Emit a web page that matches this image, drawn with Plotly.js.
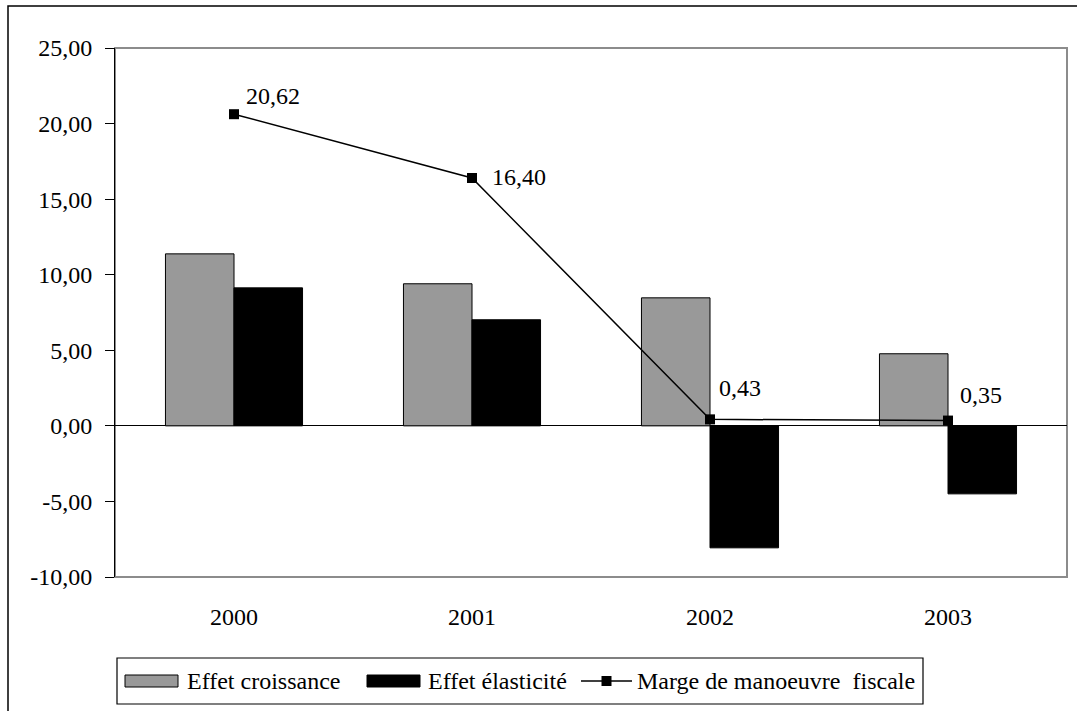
<!DOCTYPE html>
<html><head><meta charset="utf-8">
<script src="https://cdn.plot.ly/plotly-3.0.1.min.js"></script>
<style>html,body{margin:0;padding:0;background:#fff}#chart{width:1077px;height:711px}</style>
</head><body><div id="chart"></div>
<script>
const years = ['2000','2001','2002','2003'];
const effetCroissance = [11.38, 9.40, 8.47, 4.77];
const effetElasticite = [9.13, 7.02, -8.07, -4.50];
const margeManoeuvre = [20.62, 16.40, 0.43, 0.35];
const margeLabels = ['20,62','16,40','0,43','0,35'];
const labelShiftX = [10, 18, 7, 10];
const labelShiftY = [18, 1, 31, 26];
const yTickVals = [-10, -5, 0, 5, 10, 15, 20, 25];
const yTickText = ['-10,00','-5,00','0,00','5,00','10,00','15,00','20,00','25,00'];
const seriesNames = ['Effet croissance','Effet élasticité','Marge de manoeuvre\u00a0 fiscale'];

const FAM = 'Liberation Serif, Times New Roman, serif';
const font = {family:FAM, size:24, color:'#000'};
const yRange = [-10, 25];
const xRange = [-0.5, years.length - 0.5];
const boundaries = years.map((y,i)=>i+0.5);

// plot area geometry (px) for paper conversions
const M = {l:115, r:10, t:48, b:134};
const W = 1077, H = 711;
const PW = W - M.l - M.r, PH = H - M.t - M.b;
const px = v => (v - M.l) / PW;
const py = v => (H - M.b - v) / PH;

const traces = [
  {type:'bar', x:years, y:effetCroissance, name:seriesNames[0],
   marker:{color:'#999999', line:{color:'#000', width:1}}, hoverinfo:'skip'},
  {type:'bar', x:years, y:effetElasticite, name:seriesNames[1],
   marker:{color:'#000000', line:{color:'#000', width:1}}, hoverinfo:'skip'},
  {type:'scatter', mode:'lines+markers', x:years, y:margeManoeuvre, name:seriesNames[2],
   line:{color:'#000', width:1.5}, marker:{symbol:'square', size:10, color:'#000'},
   hoverinfo:'skip', cliponaxis:false}
];

// data labels: category axis -> use category index
const annotations = margeManoeuvre.map((v,i)=>({
  xref:'x', yref:'y', x:i, y:v, text:margeLabels[i], showarrow:false,
  xanchor:'left', yanchor:'middle', xshift:labelShiftX[i], yshift:labelShiftY[i], font:font
}));

// custom legend (Excel-like wide swatches)
const legTop = 658, legBot = 704, legMid = 681;
const legendItems = [
  {sx0:125, sx1:178, tx:185, kind:'bar', color:'#999999'},
  {sx0:367, sx1:420, tx:426, kind:'bar', color:'#000000'},
  {sx0:581, sx1:632, tx:635, kind:'line', color:'#000000'}
];
const shapes = [
  {type:'rect', xref:'paper', yref:'paper', x0:0, x1:1, y0:0, y1:1, layer:'below',
   line:{color:'#8c8c8c', width:2}},
  {type:'rect', xref:'paper', yref:'paper', x0:px(8), x1:px(1090), y0:py(730), y1:py(6),
   line:{color:'#000', width:1.5}},
  {type:'rect', xref:'paper', yref:'paper', x0:px(117), x1:px(923), y0:py(legBot), y1:py(legTop),
   fillcolor:'#fff', line:{color:'#000', width:1.2}}
];
legendItems.forEach((it,i)=>{
  if (it.kind === 'bar') {
    shapes.push({type:'rect', xref:'paper', yref:'paper', x0:px(it.sx0), x1:px(it.sx1),
      y0:py(legMid+6), y1:py(legMid-6), fillcolor:it.color, line:{color:'#000', width:1}});
  } else {
    shapes.push({type:'line', xref:'paper', yref:'paper', x0:px(it.sx0), x1:px(it.sx1),
      y0:py(legMid), y1:py(legMid), line:{color:it.color, width:1.5}});
    const c = (it.sx0 + it.sx1)/2;
    shapes.push({type:'rect', xref:'paper', yref:'paper', x0:px(c-5), x1:px(c+5),
      y0:py(legMid+5), y1:py(legMid-5), fillcolor:it.color, line:{color:it.color, width:0}});
  }
  annotations.push({xref:'paper', yref:'paper', x:px(it.tx), y:py(legMid), text:seriesNames[i],
    showarrow:false, xanchor:'left', yanchor:'middle', font:font});
});

const layout = {
  width:W, height:H, margin:M,
  paper_bgcolor:'#fff', plot_bgcolor:'#fff',
  font:font, showlegend:false,
  barmode:'group', bargap:0.424, bargroupgap:0,
  xaxis:{type:'category', range:xRange, showline:false, ticks:'', showgrid:false, zeroline:false,
         tickfont:font, ticklabelstandoff:23},
  xaxis2:{overlaying:'x', anchor:'free', position:(0-yRange[0])/(yRange[1]-yRange[0]),
          range:xRange, tickvals:boundaries, ticks:'outside', ticklen:8, tickcolor:'#808080',
          showticklabels:false, showline:false, showgrid:false, zeroline:false},
  xaxis3:{overlaying:'x', anchor:'free', position:(0-yRange[0])/(yRange[1]-yRange[0]),
          range:xRange, tickvals:boundaries, ticks:'inside', ticklen:8, tickcolor:'#808080',
          showticklabels:false, showline:false, showgrid:false, zeroline:false},
  yaxis:{range:yRange, tickvals:yTickVals, ticktext:yTickText, ticks:'outside', ticklen:9,
         tickcolor:'#000', showline:true, linecolor:'#000', linewidth:1, showgrid:false,
         zeroline:true, zerolinecolor:'#000', zerolinewidth:1, tickfont:font, ticklabelstandoff:8},
  yaxis2:{overlaying:'y', anchor:'x', side:'left', range:yRange, tickvals:yTickVals, ticks:'inside',
          ticklen:8, tickcolor:'#000', showticklabels:false, showline:false, showgrid:false, zeroline:false},
  shapes:shapes,
  annotations:annotations
};

Plotly.newPlot('chart', traces, layout, {displayModeBar:false, staticPlot:true});
</script></body></html>
